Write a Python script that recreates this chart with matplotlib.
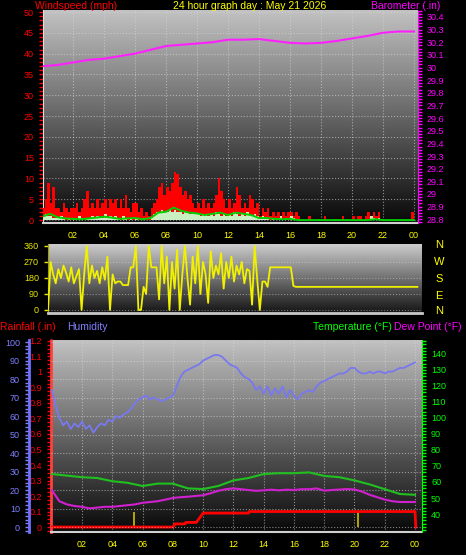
import matplotlib
matplotlib.use("Agg")
import matplotlib.pyplot as plt
import numpy as np
from matplotlib.colors import LinearSegmentedColormap
from matplotlib.ticker import MultipleLocator, FuncFormatter

plt.rcParams['font.family'] = ['Liberation Sans', 'DejaVu Sans']

# ---- data ----
hour_ticks = [2, 4, 6, 8, 10, 12, 14, 16, 18, 20, 22, 24]
hour_labels = ['02', '04', '06', '08', '10', '12', '14', '16', '18', '20', '22', '00']

# wind gust (mph), 10 minute samples
gust = [3, 5, 9, 4, 8, 3,  3, 2, 4, 3, 2, 3,  3, 4, 2, 3, 5, 7,  3, 4, 3, 5, 3, 4,
        5, 3, 5, 4, 5, 3,  5, 3, 6, 3, 2, 4,  4, 2, 3, 1, 2, 1,  3, 4, 5, 8, 9, 6,
        8, 7, 9, 11.5, 11, 8,  6, 7, 5, 6, 4, 3,  4, 3, 5, 3, 4, 3,  4, 6, 10, 7, 5, 3,
        5, 3, 4, 8, 6, 3,  4, 3, 6, 5, 3, 4,  1, 3, 2, 3, 1, 2,  1, 2, 1, 2, 1, 2,
        2, 1, 2, 1, 0, 0,  0, 1, 0, 0, 0, 0,  0, 1, 0, 0, 0, 0,  0, 0, 1, 0, 0, 0,
        1, 0, 1, 1, 0, 1,  2, 1, 2, 1, 2, 0,  0, 0, 0, 0, 0, 0,  0, 0, 0, 0, 0, 2]
# wind speed (mph), 10 minute samples
speed = [1, 1.5, 1, 1, 0.5, 0.5,  0.5, 1, 0.5, 0, 0.5, 0,  0.5, 0, 1, 0.5, 0, 0.5,
         0.5, 1, 0.5, 1, 0.5, 0.5,  1.5, 0.5, 1, 0.5, 1, 0.5,  0, 1, 0.5, 0, 0.5, 0,
         0.5, 0, 0, 0.5, 0, 0,  0.5, 1.5, 2, 2, 2.5, 2,  2, 2.5, 2, 2.5, 2, 2,
         1.5, 2, 2, 1.5, 2, 1.5,  1.5, 1, 1.5, 1.5, 1, 1.5,  1, 2, 1.5, 1, 1.5, 1,
         1.5, 1, 2, 1.5, 1, 1.5,  1, 2, 1.5, 1, 1.5, 1,  0.5, 1, 0.5, 0.5, 0, 0.5,
         0, 0.5, 1, 0, 0.5, 0,  1, 0.5, 0, 0, 0, 0,  0, 0, 0, 0, 0, 0,
         0, 0, 0, 0, 0, 0,  0, 0, 0, 0, 0, 0,  0, 0, 0, 0, 0, 0,
         0, 1, 0.5, 0, 0.5, 0,  0, 0, 0, 0, 0, 0,  0, 0, 0, 0, 0, 0]
# average wind (mph), 30 minute samples
wind_avg = [0.8, 1.5, 0.7, 0.4, 0.3, 0.2, 0.4, 0.6, 0.8, 0.6, 0.3, 0.4, 0.5, 0.2, 0.5,
            1.8, 2.0, 3.0, 2.2, 1.8, 1.6, 1.2, 1.5, 1.8, 1.2, 1.8, 1.5, 1.2, 0.5, 0.5,
            0.3, 0.2, 0.3, 0, 0, 0, 0, 0, 0, 0, 0, 0, 0, 0.2, 0, 0, 0, 0, 0]
# barometer (in), hourly
baro = [30.01, 30.02, 30.04, 30.06, 30.07, 30.09, 30.11, 30.14, 30.17, 30.18, 30.19,
        30.20, 30.22, 30.22, 30.225, 30.21, 30.195, 30.19, 30.195, 30.21, 30.23,
        30.25, 30.275, 30.285, 30.285]
# wind direction (deg), 10 minute samples
wind_dir = [0, 270, 200, 150, 230, 180,  250, 210, 160, 240, 150, 190,
            230, 0, 200, 360, 150, 250,  180, 220, 150, 240, 170, 300,
            0, 200, 150, 160, 160, 140,  140, 140, 240, 240, 360, 0,
            0, 130, 90, 360, 240, 240,  240, 60, 360, 150, 300, 0,
            270, 120, 340, 0, 200, 360,  180, 30, 300, 150, 360, 90,
            270, 200, 40, 330, 180, 250,  200, 320, 120, 270, 180, 300,
            160, 250, 200, 270, 150, 230,  220, 30, 360, 170, 0, 160,
            160, 130, 240, 240, 240, 240,  240, 240, 240, 240, 240, 135] + [130] * 48
# humidity (%), 15 minute samples
humidity = [74, 66, 59, 55, 57, 53, 56, 54, 57, 53, 55, 51, 54, 56, 55, 58,
            57, 60, 59, 61, 62, 64, 67, 69, 70, 71, 69, 70, 69, 68, 69, 70,
            71, 76, 81, 84, 85, 86, 87, 88, 90, 91, 92, 93, 93, 92, 90, 88,
            87, 86, 83, 81, 80, 78, 74, 76, 72, 76, 71, 75, 72, 76, 70, 74,
            71, 69, 72, 73, 74, 73, 76, 78, 79, 80, 81, 82, 83, 83, 84, 86,
            86, 84, 83, 83, 84, 83, 84, 84, 83, 84, 84, 85, 86, 86, 87, 88, 89]
# temperature (F), hourly
temperature = [65, 64, 63, 62.5, 60.5, 59.5, 57.5, 59, 59, 56, 55.6, 57.5, 61, 62.5,
               65, 65.5, 65.5, 66, 63.8, 63, 61, 58.5, 55.5, 52.5, 52]
# dew point (F), 30 minute samples
dew_point = [55, 48, 46, 45, 44.5, 43.5, 44, 44.5, 44.5, 45, 45.5, 46, 47, 47.5, 48,
             49, 50, 50.5, 50.8, 51.3, 51.7, 53, 54.5, 55.5, 56, 55.5, 55, 54.5, 54.8,
             55.2, 54.8, 55.2, 55, 55.5, 55.5, 56, 54.6, 55, 55.3, 55.6, 55.3, 54, 52,
             50.5, 49, 48, 47.5, 47.5, 47.5]
# rainfall (in), breakpoints
rain_times = [0, 8.0, 8.15, 8.8, 8.85, 9.55, 10.0, 13.0, 13.05, 24.0, 24.05]
rain_vals = [0, 0, 0.02, 0.02, 0.03, 0.03, 0.09, 0.09, 0.1, 0.1, 0]
rate_times = [5.45, 20.2]
rate_vals = [0.1, 0.1]

W, H = 466, 555
fig = plt.figure(figsize=(W / 100, H / 100), dpi=100, facecolor='black')


def box(x0, y0, x1, y1):
    return [x0 / W, 1 - y1 / H, (x1 - x0) / W, (y1 - y0) / H]


def gradient(ax, top, bottom):
    cmap = LinearSegmentedColormap.from_list('g', [top, bottom])
    ax.imshow(np.linspace(0, 1, 256)[:, None], cmap=cmap, aspect='auto',
              extent=[0, 1, 0, 1], transform=ax.transAxes, origin='upper', zorder=0)


def strip(v, _):
    return ('%.1f' % v).rstrip('0').rstrip('.')


fs = 6.5
tfs = 7.5

# ---- top panel: wind + barometer ----
ax1 = fig.add_axes(box(43, 10, 418, 223))
gradient(ax1, '#c2c2c2', '#080808')
hq = np.arange(len(gust) + 1) / 6
ax1.fill_between(hq, list(gust) + [gust[-1]], step='post', color='#ff0000', lw=0, zorder=3)
ax1.fill_between(hq, list(speed) + [speed[-1]], step='post', color='#c8f0c0', lw=0, zorder=4)
ax1.plot(np.arange(len(wind_avg)) * 0.5, wind_avg, color='#00d000', lw=1.4, zorder=5)
ax1.set_xlim(0.06, 24.26)
ax1.set_ylim(-0.7, 50.5)
ax1.set_yticks(range(0, 51, 5))
ax1.yaxis.set_minor_locator(MultipleLocator(1))
ax1.tick_params(axis='y', which='both', colors='#ff0000', labelsize=fs, length=3, width=1)
ax1.set_xticks(hour_ticks)
ax1.set_xticklabels(hour_labels)
ax1.tick_params(axis='x', colors='#ffff00', labelsize=fs, length=0, pad=6)
ax1.grid(True, color='#d8d8d8', linestyle=':', lw=0.8, alpha=0.6, zorder=1)
for s in ['top', 'right']:
    ax1.spines[s].set_visible(False)
ax1.spines['left'].set_color('#e0e0e0')
ax1.spines['bottom'].set_color('#d0d0d0')
ax1.spines['bottom'].set_linewidth(1.5)

ax1b = ax1.twinx()
ax1b.plot(np.arange(len(baro)), baro, color='#ff20ff', lw=1.5)
ax1b.set_ylim(28.77, 30.455)
ax1b.set_yticks(np.round(np.arange(28.8, 30.41, 0.1), 1))
ax1b.yaxis.set_major_formatter(FuncFormatter(strip))
ax1b.yaxis.set_minor_locator(MultipleLocator(0.025))
ax1b.tick_params(axis='y', which='both', colors='#ff00ff', labelsize=fs, length=3, width=1)
for s in ['top', 'left', 'bottom']:
    ax1b.spines[s].set_visible(False)
ax1b.spines['right'].set_color('#ff00ff')
ax1b.spines['right'].set_linestyle((0, (1, 1)))

fig.text(35 / W, 1 - 6 / H, 'Windspeed (mph)', color='#ff0000', fontsize=tfs, va='center')
fig.text(250 / W, 1 - 6 / H, '24 hour graph day : May 21 2026', color='#ffff00',
         fontsize=tfs, va='center', ha='center')
fig.text(440 / W, 1 - 6 / H, 'Barometer (.in)', color='#ff00ff', fontsize=tfs,
         va='center', ha='right')

# ---- wind direction panel ----
ax2 = fig.add_axes(box(48, 244, 422, 313))
gradient(ax2, '#cccccc', '#141414')
ax2.plot(np.arange(len(wind_dir)) / 6, wind_dir, color='#f0f000', lw=1.3, zorder=3)
ax2.set_xlim(0, 24.13)
ax2.set_ylim(-17, 371)
ax2.set_yticks([0, 90, 180, 270, 360])
ax2.tick_params(axis='y', colors='#e8e800', labelsize=fs, length=3, width=1)
ax2.set_xticks([])
ax2.grid(True, axis='y', color='#d8d8d8', linestyle=':', lw=0.8, alpha=0.5, zorder=1)
for s in ['top', 'right']:
    ax2.spines[s].set_visible(False)
ax2.spines['left'].set_color('#a0a000')
ax2.spines['left'].set_linestyle((0, (1, 1)))
ax2.spines['bottom'].set_color('#c8c8c8')
ax2.spines['bottom'].set_linewidth(2)
for lbl, y in zip(['N', 'W', 'S', 'E', 'N'], [245, 262, 279, 296, 311]):
    fig.text(439 / W, 1 - y / H, lbl, color='#ffff00', fontsize=8, va='center', ha='center')

# ---- bottom panel: rain, humidity, temperature, dew point ----
ax3 = fig.add_axes(box(51, 340, 422, 532))
gradient(ax3, '#c2c2c2', '#080808')
ax3.bar(rate_times, rate_vals, width=0.13, color='#b0a000', zorder=2)
ax3.plot(rain_times, rain_vals, color='#ff0000', lw=2, zorder=3)
ax3.set_xlim(-0.05, 24.46)
ax3.set_ylim(-0.032, 1.206)
ax3.set_yticks(np.round(np.arange(0, 1.21, 0.1), 1))
ax3.yaxis.set_major_formatter(FuncFormatter(strip))
ax3.yaxis.set_minor_locator(MultipleLocator(0.025))
ax3.tick_params(axis='y', which='both', colors='#ff0000', labelsize=fs, length=3, width=1)
ax3.set_xticks(hour_ticks)
ax3.set_xticklabels(hour_labels)
ax3.tick_params(axis='x', colors='#ffff00', labelsize=fs, length=0, pad=6)
ax3.grid(True, axis='x', color='#d8d8d8', linestyle=':', lw=0.8, alpha=0.6, zorder=1)
for s in ['top', 'right']:
    ax3.spines[s].set_visible(False)
ax3.spines['left'].set_color('#ff4040')
ax3.spines['left'].set_linewidth(2)
ax3.spines['left'].set_linestyle((0, (1, 1)))
ax3.spines['bottom'].set_color('#d0d0d0')
ax3.spines['bottom'].set_linewidth(1.5)

ax_h = ax3.twinx()
ax_h.plot(np.arange(len(humidity)) * 0.25, humidity, color='#7878f0', lw=1.3)
ax_h.set_ylim(-2.7, 101.1)
ax_h.yaxis.set_ticks_position('left')
ax_h.spines['left'].set_position(('axes', -22 / 371))
ax_h.spines['left'].set_visible(True)
ax_h.spines['left'].set_color('#7070ff')
ax_h.spines['left'].set_linewidth(2)
for s in ['top', 'right', 'bottom']:
    ax_h.spines[s].set_visible(False)
ax_h.set_yticks(range(0, 101, 10))
ax_h.yaxis.set_minor_locator(MultipleLocator(2))
ax_h.tick_params(axis='y', which='both', colors='#8080ff', labelsize=fs, length=3, width=1)
ax_h.grid(True, axis='y', color='#d8d8d8', linestyle=':', lw=0.8, alpha=0.6)

ax_t = ax3.twinx()
ax_t.plot(np.arange(len(temperature)), temperature, color='#20c020', lw=1.5)
ax_t.plot(np.arange(len(dew_point)) * 0.5, dew_point, color='#d020d0', lw=1.5)
ax_t.set_ylim(28.75, 148.75)
ax_t.set_yticks(range(40, 141, 10))
ax_t.yaxis.set_minor_locator(MultipleLocator(2))
ax_t.tick_params(axis='y', which='both', colors='#00ff00', labelsize=fs, length=3, width=1)
for s in ['top', 'left', 'bottom']:
    ax_t.spines[s].set_visible(False)
ax_t.spines['right'].set_color('#00ff00')
ax_t.spines['right'].set_linestyle((0, (1, 1)))

fig.text(0, 1 - 327 / H, 'Rainfall (.in)', color='#ff0000', fontsize=tfs, va='center')
fig.text(67 / W, 1 - 327 / H, 'Humidity', color='#8080ff', fontsize=tfs, va='center')
fig.text(313 / W, 1 - 327 / H, 'Temperature (°F)', color='#00ff00', fontsize=tfs, va='center')
fig.text(462 / W, 1 - 327 / H, 'Dew Point (°F)', color='#ff00ff', fontsize=tfs,
         va='center', ha='right')

fig.savefig('out.png', dpi=100, facecolor='black')
